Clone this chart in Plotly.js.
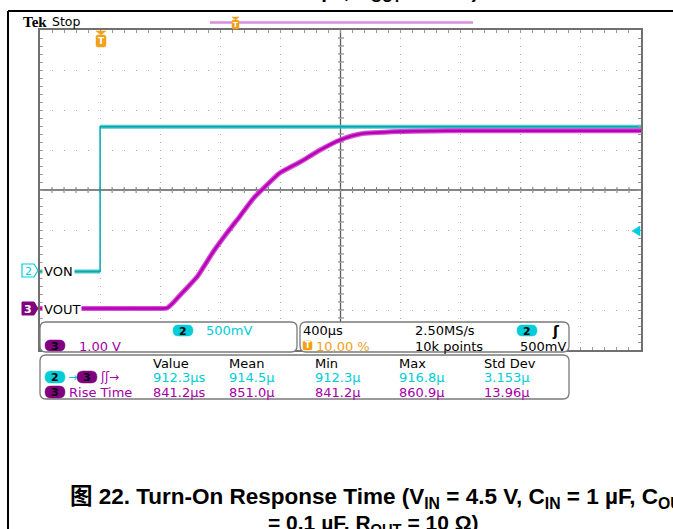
<!DOCTYPE html>
<html><head><meta charset="utf-8">
<script src="https://cdn.plot.ly/plotly-3.0.1.min.js"></script>
<style>html,body{margin:0;padding:0;background:#fff;}</style>
</head><body><div id="chart" style="width:673px;height:529px;"></div>
<script>
// ---------- DATA (read from the scope capture) ----------
// time axis in microseconds, trigger at 0 (10% of record), 400 us/div
const vonTimeUs  = [-400, 0, 0, 3600];
const vonVolts   = [-0.02, -0.02, 1.79, 1.79];           // CH2, 500 mV/div
const voutTimeUs = [-400, 0, 400, 446, 486, 552, 646, 752, 845, 932, 1018, 1111, 1198, 1331, 1464, 1597, 1730, 1997, 2329, 2662, 3000, 3600];
const voutVolts  = [0.04, 0.04, 0.04, 0.05, 0.18, 0.45, 0.83, 1.45, 1.93, 2.35, 2.78, 3.13, 3.43, 3.70, 4.00, 4.25, 4.40, 4.46, 4.48, 4.48, 4.48, 4.48]; // CH3, 1 V/div
const measHeaders = ['Value', 'Mean', 'Min', 'Max', 'Std Dev'];
const delayValues = ['912.3µs', '914.5µ', '912.3µ', '916.8µ', '3.153µ'];
const riseValues  = ['841.2µs', '851.0µ', '841.2µ', '860.9µ', '13.96µ'];
const ch2Label = 'VON', ch3Label = 'VOUT';
const ch2Scale = '500mV', ch3Scale = '1.00 V';
const timebase = '400µs', sampleRate = '2.50MS/s', recordLen = '10k points';
const trigPos = '10.00 %', trigLevel = '500mV';
const riseLabel = 'Rise Time';
const captionLine1 = '图 22. Turn-On Response Time (V<sub>IN</sub> = 4.5 V, C<sub>IN</sub> = 1 µF, C<sub>OUT</sub>';
const captionLine2 = '= 0.1 µF, R<sub>OUT</sub> = 10 Ω)';

// ---------- LAYOUT HELPERS ----------
const W = 673, H = 529;
const P = x => x / W, Q = y => 1 - y / H;
const pt = (x, y) => `${P(x).toFixed(5)},${Q(y).toFixed(5)}`;
function rr(x0, y0, x1, y1, r) {
  return `M${pt(x0 + r, y0)} L${pt(x1 - r, y0)} Q${pt(x1, y0)} ${pt(x1, y0 + r)} L${pt(x1, y1 - r)} Q${pt(x1, y1)} ${pt(x1 - r, y1)} L${pt(x0 + r, y1)} Q${pt(x0, y1)} ${pt(x0, y1 - r)} L${pt(x0, y0 + r)} Q${pt(x0, y0)} ${pt(x0 + r, y0)} Z`;
}
const shapes = [], annotations = [];
function pathShape(path, fill, line, lw, layer) {
  shapes.push({type: 'path', xref: 'paper', yref: 'paper', path, fillcolor: fill, line: {color: line, width: lw}, layer: layer || 'above'});
}
function lineShape(x0, y0, x1, y1, color, width) {
  shapes.push({type: 'line', xref: 'paper', yref: 'paper', x0: P(x0), y0: Q(y0), x1: P(x1), y1: Q(y1), line: {color, width}, layer: 'above'});
}
function txt(x, y, text, color, size, opts) {
  opts = opts || {};
  annotations.push(Object.assign({
    xref: 'paper', yref: 'paper', x: P(x), y: Q(y), text, showarrow: false,
    xanchor: opts.xanchor || 'left', yanchor: 'middle', borderpad: 0,
    font: {family: opts.family || 'DejaVu Sans', size, color, weight: opts.weight || 'normal'}
  }, opts.extra || {}));
}
const CY = 'rgb(0,205,215)', PU = 'rgb(165,0,165)', PUF = 'rgb(128,0,128)', OR = 'rgb(245,160,25)';
function pill(x0, y0, x1, y1, fill, label) {
  pathShape(rr(x0, y0, x1, y1, (y1 - y0) / 2), fill, fill, 0.5);
  txt((x0 + x1) / 2, (y0 + y1) / 2 + 0.5, label, '#000', 11, {xanchor: 'center', weight: 'bold'});
}

// ---------- GRATICULE DECORATIONS ----------
shapes.push({type: 'line', xref: 'paper', yref: 'y', x0: P(40), x1: P(641), y0: 1.0, y1: 1.0, line: {color: '#5c5c5c', width: 1.3}, layer: 'below'});
shapes.push({type: 'line', xref: 'x', yref: 'paper', x0: 1600, x1: 1600, y0: Q(350), y1: Q(30), line: {color: '#5c5c5c', width: 1.3}, layer: 'below'});
for (let k = 1; k < 50; k++) {
  const t = -400 + k * 80;
  shapes.push({type: 'line', xref: 'x', yref: 'paper', x0: t, x1: t, y0: Q(193), y1: Q(187), line: {color: '#777', width: 1}, layer: 'below'});
}
for (let k = 1; k < 40; k++) {
  const v = -1 + k * 0.1;
  shapes.push({type: 'line', xref: 'paper', yref: 'y', x0: P(338), x1: P(344), y0: v, y1: v, line: {color: '#777', width: 1}, layer: 'below'});
}

// outer frame of the page
lineShape(8, 11, 673, 11, '#000', 2);
lineShape(8, 11, 8, 529, '#000', 2);

// record view bar + trigger markers
lineShape(210, 22.5, 473, 22.5, '#D98ED9', 2.5);
pathShape(`M${pt(232, 17)} L${pt(239, 17)} L${pt(235.5, 20)} Z`, OR, OR, 0.5);
pathShape(rr(232, 20, 239, 29, 1.5), OR, OR, 0.5);
txt(235.5, 25, 'T', '#fff', 7, {xanchor: 'center', weight: 'bold'});
pathShape(`M${pt(96, 31)} L${pt(106, 31)} L${pt(101, 35)} Z`, OR, OR, 0.5);
pathShape(rr(96, 35, 106, 47, 2), OR, OR, 0.5);
txt(101, 41.5, 'T', '#fff', 9, {xanchor: 'center', weight: 'bold'});
pathShape(`M${pt(632, 231)} L${pt(640, 226)} L${pt(640, 236)} Z`, CY, CY, 0.5);

// channel markers
pathShape(`M${pt(22, 264)} L${pt(34, 264)} L${pt(38, 270.5)} L${pt(34, 277)} L${pt(22, 277)} Z`, '#fff', CY, 1.2);
txt(28, 271, '2', CY, 11, {xanchor: 'center'});
pathShape(`M${pt(22, 302)} L${pt(34, 302)} L${pt(38, 308.5)} L${pt(34, 315)} L${pt(22, 315)} Z`, PUF, PUF, 1);
txt(28, 309, '3', '#fff', 11, {xanchor: 'center', weight: 'bold'});
txt(41.5, 271, ch2Label, '#000', 13, {extra: {bgcolor: '#fff', borderpad: 1}});
txt(41.5, 309, ch3Label, '#000', 13, {extra: {bgcolor: '#fff', borderpad: 1}});

// header text
txt(22, 22, 'Tek', '#000', 15, {family: 'Liberation Serif', weight: 'bold'});
txt(51, 22, 'Stop', '#000', 12.5);

// ---------- READOUT PANELS ----------
pathShape(rr(40, 322, 297, 352, 6), '#fff', '#7a7a7a', 1.3);
pathShape(rr(300, 322, 569, 352, 6), '#fff', '#7a7a7a', 1.3);
pathShape(rr(40, 355, 569, 399, 6), '#fff', '#7a7a7a', 1.3);

pill(173, 325, 193, 336, CY, '2');
txt(205, 330.5, ch2Scale, CY, 13);
pill(45, 340, 65, 351, PUF, '3');
txt(78, 346, ch3Scale, PU, 13);

txt(302, 330.5, timebase, '#000', 13);
txt(414, 330.5, sampleRate, '#000', 13);
pill(517, 325, 537, 336, CY, '2');
txt(551, 330.5, 'ʃ', '#000', 14, {weight: 'bold'});
pathShape(rr(303, 341, 312, 350, 1.5), OR, OR, 0.5);
txt(307.5, 345.8, 'T', '#fff', 8, {xanchor: 'center', weight: 'bold'});
txt(315, 346, trigPos, OR, 13);
txt(414, 346, recordLen, '#000', 13);
txt(519, 346, trigLevel, '#000', 13);

const colX = [152, 228, 314, 398, 483];
measHeaders.forEach((h, i) => txt(colX[i], 363, h, '#000', 13));
pill(45, 371, 65, 383, CY, '2');
txt(67, 377, '→', CY, 11);
pill(77, 371, 97, 383, PUF, '3');
txt(99, 377, 'ʃʃ→', PU, 12);
delayValues.forEach((v, i) => txt(colX[i], 377.5, v, CY, 13));
pill(45, 386, 65, 398, PUF, '3');
txt(68, 392, riseLabel, PU, 13);
riseValues.forEach((v, i) => txt(colX[i], 392.5, v, PU, 13));

// captions (previous caption cut at top, this one cut at bottom)
const capFont = 'Liberation Sans, Arial, Noto Sans CJK SC';
txt(373, -8, '<b>' + captionLine2 + '</b>', '#000', 21, {xanchor: 'center', family: capFont});
txt(69, 497.5, '<b>' + captionLine1 + '</b>', '#000', 22.5, {family: capFont});
txt(373, 524, '<b>' + captionLine2 + '</b>', '#000', 21, {xanchor: 'center', family: capFont});

// ---------- TRACES ----------
function gapAtSteps(xs, ys) {
  const gx = [], gy = [];
  xs.forEach((x, i) => {
    if (i > 0 && x === xs[i - 1]) { gx.push(null); gy.push(null); }
    gx.push(x); gy.push(ys[i]);
  });
  return [gx, gy];
}
const [vonBandX, vonBandY] = gapAtSteps(vonTimeUs, vonVolts);
const traces = [
  {x: vonBandX, y: vonBandY, type: 'scatter', mode: 'lines', yaxis: 'y', connectgaps: false,
   line: {color: 'rgba(60,195,195,0.9)', width: 4}, hoverinfo: 'skip'},
  {x: vonTimeUs, y: vonVolts, type: 'scatter', mode: 'lines', yaxis: 'y',
   line: {color: 'rgb(0,170,175)', width: 1.5}, hoverinfo: 'skip'},
  {x: voutTimeUs, y: voutVolts, type: 'scatter', mode: 'lines', yaxis: 'y2',
   line: {color: 'rgba(205,60,205,0.9)', width: 5, shape: 'spline', smoothing: 0.5}, hoverinfo: 'skip'},
  {x: voutTimeUs, y: voutVolts, type: 'scatter', mode: 'lines', yaxis: 'y2',
   line: {color: 'rgb(185,0,185)', width: 2.5, shape: 'spline', smoothing: 0.5}, hoverinfo: 'skip'}
];

const layout = {
  width: W, height: H, autosize: false,
  margin: {l: 0, r: 0, t: 0, b: 0, pad: 0},
  paper_bgcolor: '#fff', plot_bgcolor: '#fff', showlegend: false,
  xaxis: {
    domain: [P(40), P(641)], range: [-400, 3600], tick0: -400, dtick: 400,
    showgrid: true, gridcolor: '#a8a8a8', gridwidth: 1, griddash: '1px,7px',
    showline: true, linecolor: '#707070', linewidth: 1.6, mirror: 'ticks',
    ticks: 'inside', ticklen: 3, tickcolor: '#999', tickwidth: 1,
    minor: {dtick: 80, tick0: -400, ticks: 'inside', ticklen: 3, tickcolor: '#999', showgrid: false},
    showticklabels: false, zeroline: false, fixedrange: true
  },
  yaxis: {
    domain: [1 - 350 / H, 1 - 30 / H], range: [-1, 3], tick0: -1, dtick: 0.5,
    showgrid: true, gridcolor: '#a8a8a8', gridwidth: 1, griddash: '1px,11px',
    showline: true, linecolor: '#707070', linewidth: 1.6, mirror: 'ticks',
    ticks: 'inside', ticklen: 3, tickcolor: '#999', tickwidth: 1,
    minor: {dtick: 0.1, tick0: -1, ticks: 'inside', ticklen: 3, tickcolor: '#999', showgrid: false},
    showticklabels: false, zeroline: false, fixedrange: true
  },
  yaxis2: {overlaying: 'y', anchor: 'x', range: [-1, 7], visible: false, showgrid: false, zeroline: false, fixedrange: true},
  shapes, annotations
};
Plotly.newPlot('chart', traces, layout, {staticPlot: true, displayModeBar: false});
</script></body></html>
